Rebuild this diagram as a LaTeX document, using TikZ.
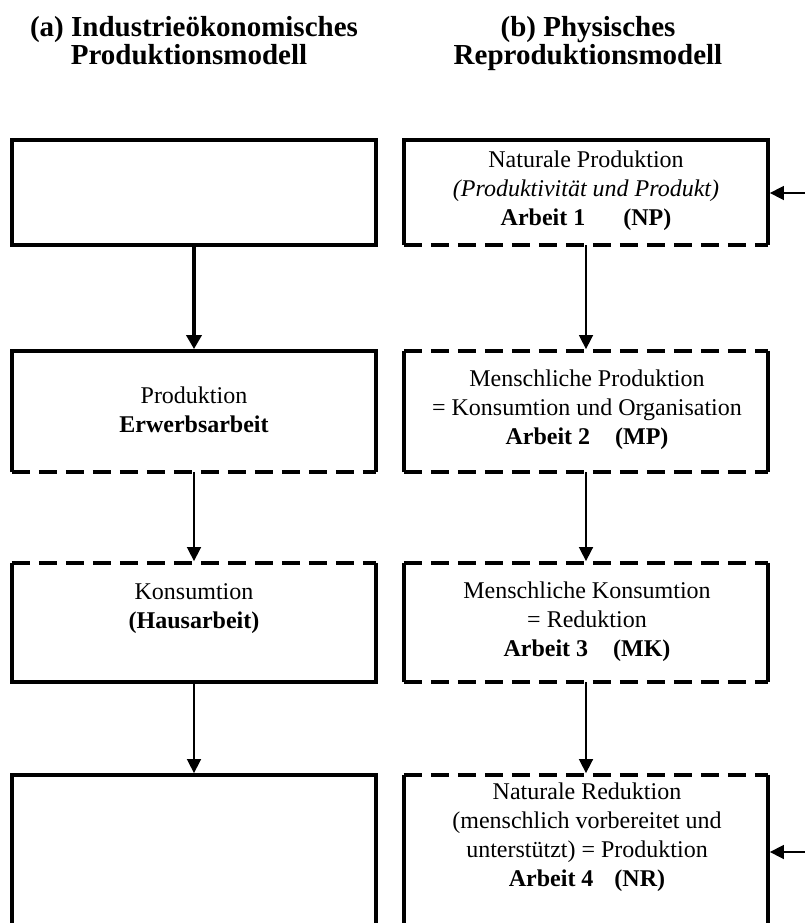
\documentclass[tikz,border=0pt]{standalone}
\usepackage{fontspec}
\setmainfont{Liberation Serif}
\usetikzlibrary{arrows.meta}
\begin{document}
\begin{tikzpicture}[x=1pt,y=-1pt,
  bx/.style={rectangle, minimum width=364pt, inner sep=0pt, draw=none},
  border/.style={line width=3.5pt, line cap=square},
  dashedge/.style={line width=3.5pt, dash pattern=on 18pt off 9pt},
  txt/.style={align=center, inner sep=0pt, font=\fontsize{24}{29}\selectfont},
  ttl/.style={anchor=base, inner sep=0pt, font=\fontsize{29}{28.5}\selectfont\bfseries},
  fatarrow/.style={line width=3.5pt, shorten >=1.7pt, -{Triangle[width=15pt,length=14pt]}},
  thinarrow/.style={line width=1.6pt, shorten >=1.7pt, -{Triangle[width=14pt,length=14pt]}}
]
\useasboundingbox (0,0) rectangle (805,923);
\clip (0,0) rectangle (805,923);

% titles
\node[ttl] (ta1) at (194,36.5) {(a) Industrieökonomisches};
\node[ttl] (ta2) at (189,64.5) {Produktionsmodell};
\node[ttl] (tb1) at (588,36.5) {(b) Physisches};
\node[ttl] (tb2) at (588,64.5) {Reproduktionsmodell};

% box shapes
\node[bx, minimum height=105pt] (L1) at (194,192.5) {};
\node[bx, minimum height=121pt] (L2) at (194,411.5) {};
\node[bx, minimum height=119pt] (L3) at (194,622.5) {};
\node[bx, minimum height=175pt] (L4) at (194,862.5) {};
\node[bx, minimum height=105pt] (R1) at (586,192.5) {};
\node[bx, minimum height=121pt] (R2) at (586,411.5) {};
\node[bx, minimum height=119pt] (R3) at (586,622.5) {};
\node[bx, minimum height=175pt] (R4) at (586,862.5) {};

% borders left
\draw[border] (L1.north west) rectangle (L1.south east);
\draw[border] (L2.south west) -- (L2.north west) -- (L2.north east) -- (L2.south east);
\draw[dashedge] (L2.south west) -- (L2.south east);
\draw[border] (L3.north west) -- (L3.south west) -- (L3.south east) -- (L3.north east);
\draw[dashedge] (L3.north west) -- (L3.north east);
\draw[border] (L4.south west) -- (L4.north west) -- (L4.north east) -- (L4.south east);

% borders right
\draw[border] (R1.south west) -- (R1.north west) -- (R1.north east) -- (R1.south east);
\draw[dashedge] (R1.south west) -- (R1.south east);
\draw[border] (R2.south west) -- (R2.north west);
\draw[border] (R2.north east) -- (R2.south east);
\draw[dashedge] (R2.north west) -- (R2.north east);
\draw[dashedge] (R2.south west) -- (R2.south east);
\draw[border] (R3.south west) -- (R3.north west);
\draw[border] (R3.north east) -- (R3.south east);
\draw[dashedge] (R3.north west) -- (R3.north east);
\draw[dashedge] (R3.south west) -- (R3.south east);
\draw[border] (R4.south west) -- (R4.north west);
\draw[border] (R4.north east) -- (R4.south east);
\draw[dashedge] (R4.north west) -- (R4.north east);

% texts
\node[txt] (tL2) at (194,410) {Produktion\\\textbf{Erwerbsarbeit}};
\node[txt] (tL3) at (194,609) {Konsumtion\\\textbf{(Hausarbeit)}};
\node[txt] (tR1) at (586,191) {Naturale Produktion\\\textit{(Produktivität und Produkt)}\\\textbf{Arbeit 1\hspace*{38pt}(NP)}};
\node[txt] (tR2) at (587,410) {Menschliche Produktion\\= Konsumtion und Organisation\\\textbf{Arbeit 2\hspace*{25pt}(MP)}};
\node[txt] (tR3) at (587,622) {Menschliche Konsumtion\\= Reduktion\\\textbf{Arbeit 3\hspace*{25pt}(MK)}};
\node[txt] (tR4) at (587,837) {Naturale Reduktion\\(menschlich vorbereitet und\\unterstützt) = Produktion\\\textbf{Arbeit 4\hspace*{21pt}(NR)}};

% arrows
\draw[fatarrow] (L1) -- (L2);
\draw[thinarrow] (L2) -- (L3);
\draw[thinarrow] (L3) -- (L4);
\draw[thinarrow] (R1) -- (R2);
\draw[thinarrow] (R2) -- (R3);
\draw[thinarrow] (R3) -- (R4);

\coordinate (inR1) at (806,193);
\coordinate (inR4) at (806,852);
\draw[thinarrow] (inR1) -- (inR1 -| R1.east);
\draw[thinarrow] (inR4) -- (inR4 -| R4.east);
\end{tikzpicture}
\end{document}
